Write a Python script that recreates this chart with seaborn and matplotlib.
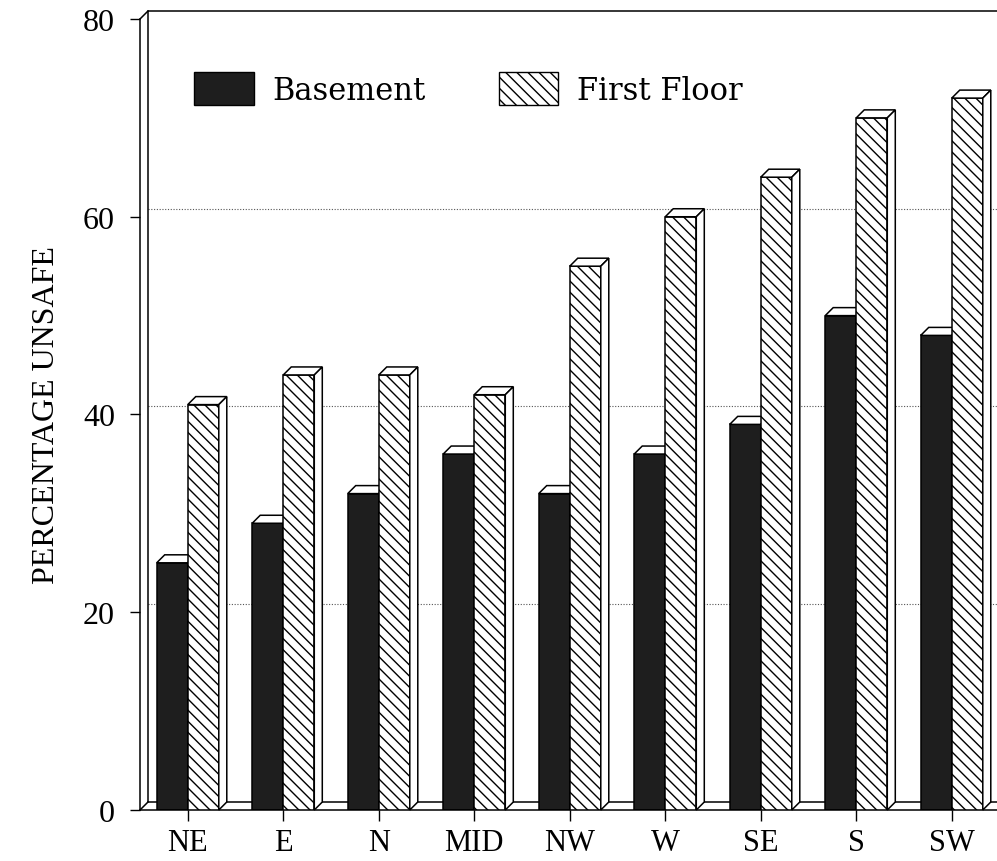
import numpy as np
import pandas as pd
import matplotlib
matplotlib.use("Agg")
import matplotlib.pyplot as plt
from matplotlib.patches import Polygon, Patch
import seaborn as sns

# Survey results: share of homes rated unsafe, by region
categories = ["NE", "E", "N", "MID", "NW", "W", "SE", "S", "SW"]
basement = [25, 29, 32, 36, 32, 36, 39, 50, 48]
first_floor = [41, 44, 44, 42, 55, 60, 64, 70, 72]
series_names = ["Basement", "First Floor"]
y_ticks = [0, 20, 40, 60, 80]

df = pd.DataFrame({
    "region": categories * 2,
    "level": [series_names[0]] * len(categories) + [series_names[1]] * len(categories),
    "pct": basement + first_floor,
})

sns.set_theme(style="white")
plt.rcParams["font.family"] = ["Liberation Serif", "DejaVu Serif"]
plt.rcParams["hatch.linewidth"] = 1.0
plt.rcParams["text.color"] = "black"
plt.rcParams["axes.labelcolor"] = "black"

W, H = 997, 862
fig = plt.figure(figsize=(W / 100, H / 100), dpi=100)
ax = fig.add_axes([140 / W, 51 / H, 859.5 / W, 791 / H])

dark = "#1e1e1e"
sns.barplot(data=df, x="region", y="pct", hue="level", order=categories,
            hue_order=series_names, palette=[dark, "white"], width=0.65,
            dodge=True, saturation=1, legend=False, ax=ax, zorder=2)

ax.set_xlim(-0.5, 8.5)
ax.set_ylim(0, 80)

# depth offset of the pseudo-3D boxes (in data units)
dx = 8 / 95.5
dy = 8 / 9.8875

# faces of the boxes: front, top and right side
for k, cont in enumerate(ax.containers):
    z = 2 + 2 * k
    for bar in cont.patches:
        bar.set_edgecolor("black")
        bar.set_linewidth(1.1)
        bar.set_zorder(z)
        if k == 1:
            bar.set_hatch("\\\\\\")
            bar.set_facecolor("white")
        x0, w, h = bar.get_x(), bar.get_width(), bar.get_height()
        top = Polygon([(x0, h), (x0 + w, h), (x0 + w + dx, h + dy), (x0 + dx, h + dy)],
                      closed=True, facecolor="white", edgecolor="black",
                      linewidth=1.1, zorder=z + 0.5, clip_on=False)
        side = Polygon([(x0 + w, 0), (x0 + w + dx, dy), (x0 + w + dx, h + dy), (x0 + w, h)],
                       closed=True, facecolor="white", edgecolor="black",
                       linewidth=1.1, zorder=z + 0.5, clip_on=False)
        ax.add_patch(top)
        ax.add_patch(side)

# back wall, floor and gridlines
xl = -0.5
xr = 9.0
line_kw = dict(color="black", linewidth=1.1, clip_on=False, zorder=1)
ax.plot([xl + dx, xl + dx], [dy, 80 + dy], **line_kw)
ax.plot([xl + dx, xr], [80 + dy, 80 + dy], **line_kw)
ax.plot([xl, xl + dx], [80, 80 + dy], **line_kw)
ax.plot([xl, xl + dx], [0, dy], **line_kw)
ax.plot([xl + dx, xr], [dy, dy], **line_kw)
for v in y_ticks[1:-1]:
    ax.plot([xl + dx, xr], [v + dy, v + dy], color="#555555", linestyle=(0, (1, 1.5)),
            linewidth=0.8, clip_on=False, zorder=0.5)

for s in ["top", "right"]:
    ax.spines[s].set_visible(False)
for s in ["left", "bottom"]:
    ax.spines[s].set_color("black")
    ax.spines[s].set_linewidth(1.1)
ax.spines["bottom"].set_bounds(-0.5, 9.0)

ax.set_yticks(y_ticks)
ax.set_yticklabels([str(v) for v in y_ticks])
ax.tick_params(axis="y", left=True, direction="out", length=7, width=1,
               labelsize=23, pad=11, colors="black")
ax.tick_params(axis="x", bottom=True, direction="out", length=8, width=1,
               labelsize=22, pad=5, colors="black")
ax.set_xlabel("")
ax.set_ylabel("PERCENTAGE UNSAFE", fontsize=23, labelpad=16, color="black")

handles = [
    Patch(facecolor=dark, edgecolor="black", linewidth=1.0, label=series_names[0]),
    Patch(facecolor="white", edgecolor="black", linewidth=1.0, hatch="\\\\\\",
          label=series_names[1]),
]
leg = ax.legend(handles=handles, loc="center left", bbox_to_anchor=(0.063, 0.912),
                ncol=2, frameon=False, prop={"family": "DejaVu Serif", "size": 22},
                handlelength=1.95, handleheight=1.3, handletextpad=0.6,
                columnspacing=2.4, borderpad=0, borderaxespad=0)
for t in leg.get_texts():
    t.set_color("black")

fig.savefig("out.png", dpi=100, facecolor="white")
